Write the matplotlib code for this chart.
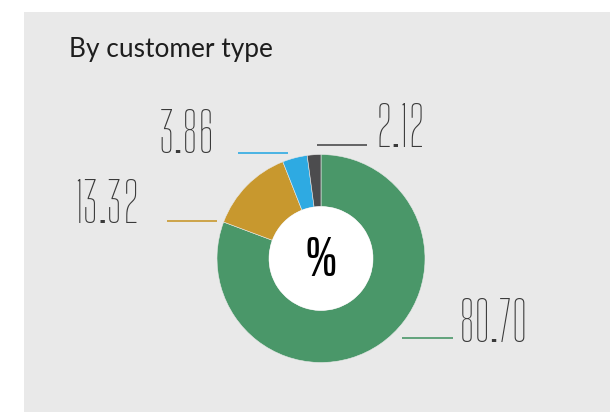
import matplotlib
matplotlib.use("Agg")
import matplotlib.pyplot as plt
from matplotlib.patches import Circle, Rectangle

# customer type shares, clockwise from 12 o'clock
shares = [80.70, 13.32, 3.86, 2.12]
share_labels = ["80.70", "13.32", "3.86", "2.12"]
colors = ["#4a9769", "#c8982e", "#2eaae2", "#4c4c4e"]
title = "By customer type"

# label placement in pixels (x, baseline y), leader line (x0, x1, y), alignment
label_pos = [(459, 342, "left"), (140, 223, "right"), (215, 153, "right"), (376, 147, "left")]
leader = [(402, 453, 338), (167, 217, 221), (238, 288, 153), (317, 367, 145)]

num_font = ["Big Shoulders Display", "Saira ExtraCondensed", "DejaVu Sans"]
W, H = 610, 412

fig = plt.figure(figsize=(W / 100, H / 100), dpi=100)
fig.patch.set_facecolor("white")

bg = fig.add_axes([0, 0, 1, 1])
bg.set_xlim(0, W)
bg.set_ylim(H, 0)
bg.axis("off")
bg.add_patch(Rectangle((24, 12), W - 24, H - 12, fc="#e9e9e9", ec="none"))
bg.text(69, 57, title, fontsize=18.9, family=["Lato", "DejaVu Sans"], color="#1e1e1e",
        va="baseline", ha="left")

for (x, y, ha), (x0, x1, ly), txt, c in zip(label_pos, leader, share_labels, colors):
    bg.plot([x0, x1], [ly, ly], color=c, lw=1.2, solid_capstyle="butt")
    bg.text(x, y, txt, fontsize=39.5, family=num_font, fontweight=100, color="#3a3a3a",
            ha=ha, va="baseline")

# donut
cx, cy, r = 321, 258.5, 104
ax = fig.add_axes([(cx - r) / W, (H - cy - r) / H, 2 * r / W, 2 * r / H])
ax.pie(shares, colors=colors, startangle=90, counterclock=False, radius=1,
       wedgeprops=dict(width=0.5, edgecolor="#e9e9e9", linewidth=0.4))
ax.add_patch(Circle((0, 0), 0.5, fc="white", ec="none"))
ax.text(0, -0.02, "%", fontsize=40, family=["Saira ExtraCondensed", "DejaVu Sans"],
        fontweight=500, color="black", ha="center", va="center")
ax.set_xlim(-1, 1)
ax.set_ylim(-1, 1)
ax.axis("off")

fig.savefig("out.png", dpi=100, facecolor="white")
